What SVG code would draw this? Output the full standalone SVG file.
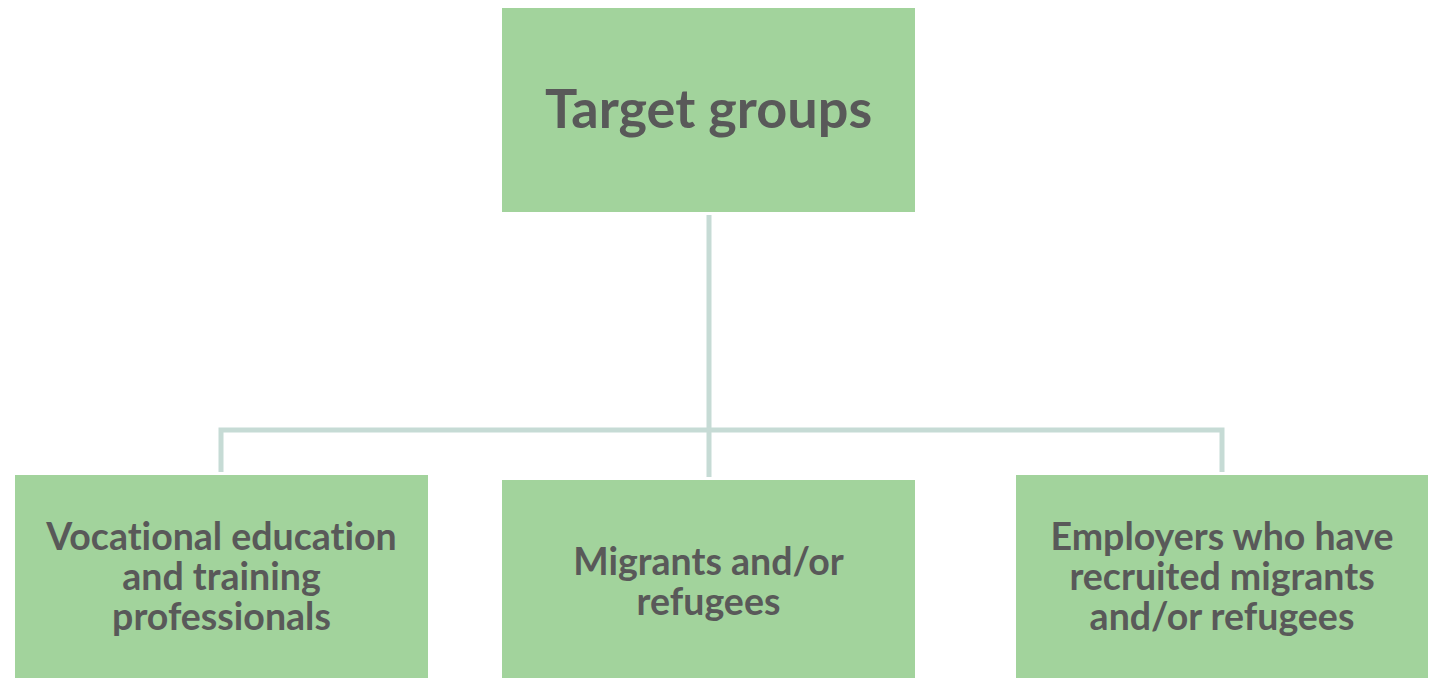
<svg xmlns="http://www.w3.org/2000/svg" width="1437" height="678" viewBox="0 0 1437 678">
<style>
.box{fill:#a2d39c;}
.t{font-family:Lato,"Liberation Sans",sans-serif;font-weight:bold;fill:#595959;text-anchor:middle;font-variant-ligatures:none;}
.big{font-size:54px;}
.sm{font-size:37.5px;}
.conn{fill:none;stroke:#c6dbd5;stroke-width:5;}
</style>
<rect width="1437" height="678" fill="#ffffff"/>
<g id="connectors">
<path class="conn" d="M709 215 V477"/>
<path class="conn" d="M221 472 V430 H1222 V472"/>
</g>
<g id="node-target">
<rect class="box" x="502" y="8" width="413" height="204"/>
<text class="t big" x="708.5" y="128">Target groups</text>
</g>
<g id="node-vet">
<rect class="box" x="15" y="475" width="413" height="203"/>
<text class="t sm" x="221.5" y="550">Vocational education</text>
<text class="t sm" x="221.5" y="590">and training</text>
<text class="t sm" x="221.5" y="630">professionals</text>
</g>
<g id="node-migrants">
<rect class="box" x="502" y="480" width="413" height="198"/>
<text class="t sm" x="708.5" y="575">Migrants and/or</text>
<text class="t sm" x="708.5" y="615">refugees</text>
</g>
<g id="node-employers">
<rect class="box" x="1016" y="475" width="412" height="203"/>
<text class="t sm" x="1222" y="550">Employers who have</text>
<text class="t sm" x="1222" y="590">recruited migrants</text>
<text class="t sm" x="1222" y="630">and/or refugees</text>
</g>
</svg>
